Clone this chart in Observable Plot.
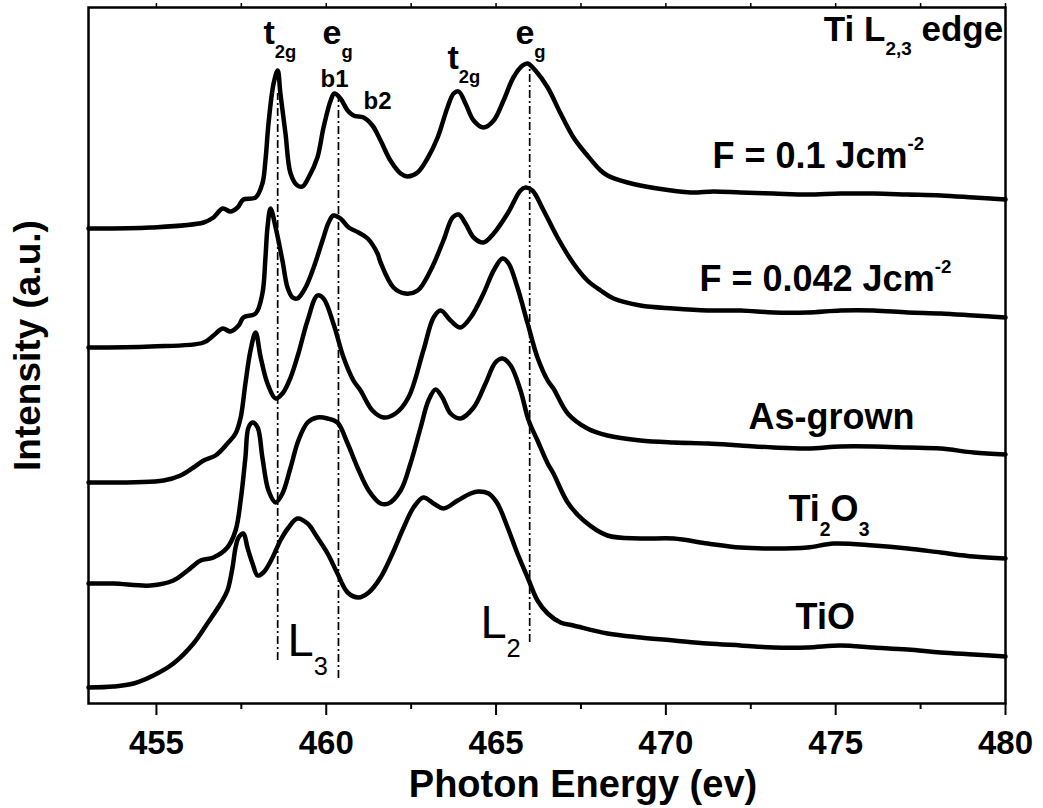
<!DOCTYPE html>
<html><head><meta charset="utf-8">
<script src="https://cdn.jsdelivr.net/npm/d3@7"></script>
<script src="https://cdn.jsdelivr.net/npm/@observablehq/plot@0.6"></script>
<style>
html,body{margin:0;padding:0;background:#fff;}
#chart{width:1043px;height:808px;}
</style></head><body><div id="chart"></div>
<script>
// ---- series data (photon energy in eV, intensity in offset arbitrary units) ----
const seriesNames = ["F = 0.1 Jcm-2", "F = 0.042 Jcm-2", "As-grown", "Ti2O3", "TiO"];

const energyA = [453.00,454.83,456.39,456.68,456.95,457.18,457.39,457.56,457.92,458.12,458.21,458.30,458.45,458.57,458.65,458.80,458.95,459.15,459.30,459.48,459.74,459.92,460.13,460.24,460.42,460.63,460.80,461.10,461.36,461.60,461.89,462.19,462.39,462.69,462.98,463.28,463.57,463.75,463.90,464.10,464.34,464.63,464.93,465.22,465.51,465.78,465.93,466.16,466.52,466.90,467.28,467.69,468.08,468.28,468.87,469.75,470.73,471.40,472.20,473.17,474.17,475.14,476.12,477.12,478.09,479.06,480.00];
const intensityA = [47.5,47.6,48.1,48.6,49.5,49.2,49.6,50.4,50.6,52.0,54.3,58.0,62.0,63.3,61.0,57.0,53.0,51.8,51.7,52.6,54.6,57.6,60.3,61.0,60.5,59.3,58.8,58.6,57.8,56.3,54.3,53.0,52.7,53.1,54.5,56.6,59.6,61.0,61.2,60.0,58.3,57.6,58.3,60.3,62.6,63.8,64.0,63.3,61.6,59.0,56.6,54.8,53.3,52.8,52.1,51.5,51.1,51.2,51.1,51.0,50.9,51.0,51.0,50.9,50.8,50.6,50.4];

const energyB = [453.00,454.83,456.39,456.68,456.95,457.18,457.42,457.56,457.92,458.12,458.21,458.27,458.36,458.51,458.71,458.86,459.01,459.15,459.39,459.63,459.89,460.07,460.21,460.42,460.66,460.95,461.22,461.51,461.60,461.98,462.33,462.69,463.07,463.45,463.72,463.90,464.10,464.34,464.63,464.93,465.34,465.72,465.87,466.07,466.40,466.81,467.28,467.69,468.08,468.46,469.25,470.23,471.23,472.20,473.17,474.17,475.14,476.12,477.12,478.09,479.06,480.00];
const intensityB = [35.6,35.7,36.1,36.8,37.5,37.2,37.8,38.6,39.0,41.0,44.6,47.6,49.5,47.6,44.3,41.6,40.6,40.5,41.6,43.6,46.3,48.1,48.8,48.5,47.6,47.1,46.5,45.0,44.1,41.6,41.0,41.3,43.3,46.3,48.6,48.9,48.0,46.6,46.1,47.0,49.0,51.3,51.6,51.3,49.3,46.6,44.0,42.3,41.3,40.5,39.8,39.5,39.3,39.3,39.1,39.1,39.3,39.3,39.1,39.0,38.8,38.6];

const energyC = [453.00,455.21,455.71,456.09,456.39,456.74,457.09,457.33,457.48,457.62,457.77,457.92,458.07,458.27,458.51,458.71,458.95,459.18,459.45,459.74,459.92,460.21,460.51,460.80,461.01,461.36,461.69,462.04,462.42,462.86,463.16,463.37,463.66,463.95,464.25,464.63,464.93,465.19,465.37,465.63,465.93,466.22,466.52,466.69,467.11,467.69,468.28,469.25,470.23,471.23,472.20,473.17,474.17,475.14,476.12,477.12,478.09,479.06,480.00];
const intensityC = [22.1,22.3,22.8,23.6,24.3,24.8,26.0,27.0,28.6,32.0,35.3,37.1,34.6,32.0,30.5,31.0,32.6,35.0,38.3,40.8,40.5,38.0,34.6,32.3,31.3,29.3,28.6,29.0,30.6,35.3,38.6,39.3,38.3,37.6,38.6,41.0,43.3,44.5,44.0,41.6,38.0,34.6,32.3,31.5,29.0,27.5,26.8,26.3,26.1,26.0,25.8,25.6,25.5,25.7,25.7,25.6,25.5,25.1,24.9];

const energyD = [453.00,453.74,454.83,455.50,455.92,456.30,456.68,457.09,457.33,457.48,457.62,457.71,457.83,457.98,458.12,458.30,458.51,458.71,458.95,459.18,459.45,459.74,460.04,460.33,460.63,460.92,461.25,461.60,461.83,462.19,462.48,462.78,463.01,463.22,463.42,463.66,463.95,464.34,464.69,464.98,465.19,465.43,465.72,465.96,466.22,466.52,466.69,467.11,467.58,468.28,469.25,470.23,471.23,472.20,473.17,474.17,474.94,476.12,477.12,478.09,479.06,480.00];
const intensityD = [12.0,12.0,11.8,12.3,13.3,14.3,14.6,15.6,17.3,20.3,24.6,27.6,28.1,27.6,24.6,21.3,20.1,21.0,23.6,26.3,28.1,28.6,28.5,28.1,26.0,23.6,21.3,20.0,20.0,21.3,24.0,27.6,30.3,31.4,30.6,29.0,28.5,29.6,32.0,34.1,34.5,33.8,31.3,28.3,26.3,24.0,23.0,20.1,18.3,16.8,16.5,16.5,16.0,15.6,15.5,15.6,16.0,15.8,15.5,15.1,14.7,14.5];

const energyE = [453.00,453.74,454.33,454.91,455.50,456.09,456.50,456.89,457.09,457.24,457.33,457.42,457.56,457.68,457.83,457.98,458.15,458.42,458.65,458.89,459.15,459.45,459.74,460.04,460.33,460.63,460.95,461.25,461.60,461.95,462.28,462.57,462.86,463.16,463.45,463.87,464.25,464.48,464.78,465.04,465.34,465.63,465.93,466.22,466.52,466.90,467.28,468.28,469.25,470.23,471.23,472.20,473.17,474.17,475.14,476.12,477.12,478.09,479.06,480.00];
const intensityE = [1.6,1.7,2.0,2.8,4.0,6.0,8.0,10.0,11.3,13.6,15.6,16.6,17.0,15.6,14.0,12.8,13.1,14.6,16.3,17.6,18.5,18.0,16.6,15.0,13.0,11.1,10.6,11.1,12.6,15.0,17.6,19.6,20.6,20.0,19.5,20.3,21.0,21.2,21.0,20.0,17.6,15.0,12.6,10.3,9.0,8.1,7.8,7.0,6.6,6.3,6.0,5.8,5.6,5.6,5.8,5.6,5.4,5.1,4.9,4.7];

// ---- axis ticks ----
const xTicks = [455, 460, 465, 470, 475, 480];
const xMinorTicks = [457.5, 462.5, 467.5, 472.5, 477.5];
const xTopTicks = [455, 457.5, 460, 462.5, 465, 467.5, 470, 472.5, 475, 477.5, 480];

// ---- annotations ----
const guideEnergy = [458.57, 460.36, 465.99];
const guideLow = [4.3, 2.5, 6.1];
const guideHigh = [61.0, 61.1, 64.0];

const peakText = ["t_{2g}", "e_{g}", "t_{2g}", "e_{g}"];
const peakX = [458.15, 459.89, 463.57, 465.57];
const peakY = [66.0, 66.0, 63.5, 66.0];

const bandText = ["b1", "b2"];
const bandX = [459.83, 461.10];
const bandY = [61.7, 59.5];

const sampleText = ["F = 0.1 Jcm^{-2}", "F = 0.042 Jcm^{-2}", "As-grown", "Ti_{2}O_{3}", "TiO"];
const sampleX = [471.37, 470.99, 472.43, 473.61, 473.82];
const sampleY = [53.6, 41.3, 27.5, 18.3, 7.5];

const edgeText = ["L_{3}", "L_{2}"];
const edgeX = [458.86, 464.54];
const edgeY = [4.8, 6.6];

// ---- table ----
const rows = [];
[[seriesNames[0], energyA, intensityA], [seriesNames[1], energyB, intensityB], [seriesNames[2], energyC, intensityC],
 [seriesNames[3], energyD, intensityD], [seriesNames[4], energyE, intensityE]]
  .forEach(([s, E, I]) => E.forEach((e, i) => rows.push({series: s, energy: e, intensity: I[i]})));

const idx = a => a.map((_, i) => i);

const svg = Plot.plot({
  width: 1043, height: 808,
  marginLeft: 88, marginRight: 38, marginTop: 7, marginBottom: 105,
  style: {fontFamily: "'Liberation Sans', Arial, sans-serif", fontWeight: "bold", background: "white", color: "black", overflow: "visible"},
  x: {domain: [453, 480]},
  y: {domain: [0, 69.6], axis: null},
  marks: [
    Plot.axisX({ticks: xTicks, tickSize: 12, tickPadding: 15, strokeWidth: 2, fontSize: 33, fontWeight: "bold", tickFormat: d => String(d), label: null}),
    Plot.axisX({ticks: xMinorTicks, tickSize: 6, strokeWidth: 2, tickFormat: () => "", label: null}),
    Plot.axisX({anchor: "top", ticks: xTopTicks, tickSize: 5, strokeWidth: 1.5, tickFormat: () => "", label: null}),
    Plot.ruleX(idx(guideEnergy), {x: i => guideEnergy[i], y1: i => guideLow[i], y2: i => guideHigh[i], stroke: "black", strokeWidth: 1.7, strokeDasharray: "8,3,2,3"}),
    Plot.line(rows, {x: "energy", y: "intensity", z: "series", stroke: "black", strokeWidth: 4.5, curve: "catmull-rom", strokeLinejoin: "round"}),
    Plot.frame({stroke: "black", strokeWidth: 2.5}),
    Plot.text(idx(peakText), {x: i => peakX[i], y: i => peakY[i], text: i => peakText[i], textAnchor: "start", lineAnchor: "bottom", fontSize: 34, fontWeight: "bold", fill: "black"}),
    Plot.text(idx(bandText), {x: i => bandX[i], y: i => bandY[i], text: i => bandText[i], textAnchor: "start", lineAnchor: "bottom", fontSize: 24, fontWeight: "bold", fill: "black"}),
    Plot.text(idx(sampleText), {x: i => sampleX[i], y: i => sampleY[i], text: i => sampleText[i], textAnchor: "start", lineAnchor: "bottom", fontSize: 36, fontWeight: "bold", fill: "black"}),
    Plot.text(idx(edgeText), {x: i => edgeX[i], y: i => edgeY[i], text: i => edgeText[i], textAnchor: "start", lineAnchor: "bottom", fontSize: 47, fontWeight: "normal", fill: "black"}),
    Plot.text(["Ti L_{2,3} edge"], {x: 479.93, y: 66.3, textAnchor: "end", lineAnchor: "bottom", fontSize: 35, fontWeight: "bold", fill: "black"}),
    Plot.text(["Photon Energy (ev)"], {frameAnchor: "bottom", dx: 36, dy: 81, lineAnchor: "middle", fontSize: 38, fontWeight: "bold", fill: "black"}),
    Plot.text(["Intensity (a.u.)"], {frameAnchor: "left", dx: -60, dy: -10, rotate: -90, lineAnchor: "middle", textAnchor: "middle", fontSize: 37, fontWeight: "bold", fill: "black"})
  ]
});
document.getElementById("chart").appendChild(svg);

// rich text: _{sub} and ^{sup}
function richify(root) {
  root.querySelectorAll("text").forEach(el => {
    const s = el.textContent;
    if (!/[_^]\{/.test(s)) return;
    const fs = parseFloat(getComputedStyle(el).fontSize);
    el.textContent = "";
    const re = /([_^])\{([^}]*)\}|([^_^]+)/g;
    let m, shift = 0;
    while ((m = re.exec(s))) {
      const t = document.createElementNS("http://www.w3.org/2000/svg", "tspan");
      let target = 0, size = fs;
      if (m[1] === "_") { target = 0.42 * fs; size = 0.54 * fs; t.textContent = m[2]; }
      else if (m[1] === "^") { target = -0.5 * fs; size = 0.52 * fs; t.textContent = m[2]; }
      else t.textContent = m[3];
      t.setAttribute("dy", (target - shift).toFixed(2));
      shift = target;
      t.setAttribute("font-size", size.toFixed(1));
      el.appendChild(t);
    }
  });
}
richify(svg);
</script></body></html>
